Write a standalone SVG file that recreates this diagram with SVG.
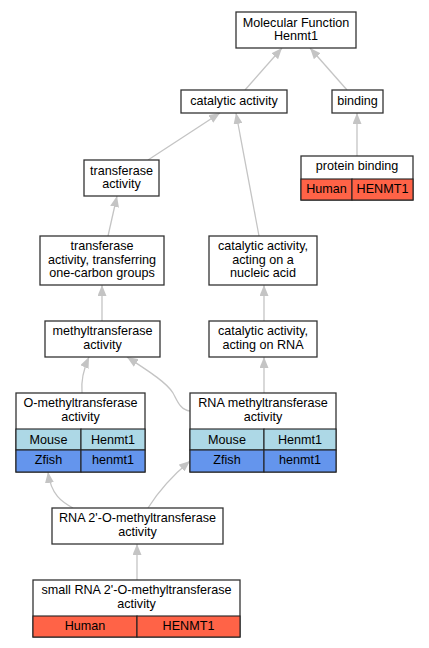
<svg xmlns="http://www.w3.org/2000/svg" width="429" height="648" viewBox="0 0 429 648">
<style>
text{font-family:"Liberation Sans",Arial,sans-serif;font-size:12.6px;fill:#000;text-anchor:middle}
.n{fill:#fff;stroke:#333;stroke-width:1.3}
.mouse{fill:#add8e6;stroke:#222;stroke-width:1.1}
.zfish{fill:#6495ed;stroke:#222;stroke-width:1.1}
.human{fill:#ff6347;stroke:#222;stroke-width:1.1}
.e{fill:none;stroke:#c4c4c4;stroke-width:1.3;marker-end:url(#ah)}
</style>
<defs>
<marker id="ah" viewBox="0 0 11 9" refX="11" refY="4.5" markerWidth="11" markerHeight="9" markerUnits="userSpaceOnUse" orient="auto">
<path d="M0,0 L11,4.5 L0,9 z" fill="#c4c4c4"/>
</marker>
</defs>
<g id="edges">
<path class="e" d="M245,90 L282,48"/>
<path class="e" d="M347,90 L310,48"/>
<path class="e" d="M148,160 L220,113"/>
<path class="e" d="M259,236 L236,113"/>
<path class="e" d="M357,156 L357,113"/>
<path class="e" d="M108,236 L117,196"/>
<path class="e" d="M102,321 L102,285"/>
<path class="e" d="M264,321 L264,285"/>
<path class="e" d="M264,393 L264,357"/>
<path class="e" d="M82,393 C81,382 84,368 89,357"/>
<path class="e" d="M190,411 C180,410 177,400 173,393 C167,383 150,372 127,357"/>
<path class="e" d="M73,508 C62,502 51,495 48,472"/>
<path class="e" d="M148,508 C158,492 172,476 190,461"/>
<path class="e" d="M137,580 L137,544"/>
</g>
<g id="mf">
<rect class="n" x="236" y="12" width="120" height="36"/>
<text x="296" y="26.5">Molecular Function</text>
<text x="296" y="40">Henmt1</text>
</g>
<g id="catalytic">
<rect class="n" x="181" y="90" width="106" height="23"/>
<text x="234" y="105">catalytic activity</text>
</g>
<g id="binding">
<rect class="n" x="332" y="90" width="51" height="23"/>
<text x="357.5" y="105">binding</text>
</g>
<g id="transferase">
<rect class="n" x="84" y="160" width="75" height="36"/>
<text x="121.5" y="174.5">transferase</text>
<text x="121.5" y="188">activity</text>
</g>
<g id="proteinbinding">
<rect class="n" x="301" y="156" width="112" height="44"/>
<text x="357" y="170">protein binding</text>
<rect class="human" x="301" y="179" width="51" height="21"/>
<rect class="human" x="352" y="179" width="61" height="21"/>
<text x="326.5" y="192.5">Human</text>
<text x="382.5" y="192.5">HENMT1</text>
</g>
<g id="transferring">
<rect class="n" x="40" y="236" width="124" height="49"/>
<text x="102" y="250">transferase</text>
<text x="102" y="263.5">activity, transferring</text>
<text x="102" y="277">one-carbon groups</text>
</g>
<g id="nucleic">
<rect class="n" x="209" y="236" width="108" height="49"/>
<text x="263" y="250">catalytic activity,</text>
<text x="263" y="263.5">acting on a</text>
<text x="263" y="277">nucleic acid</text>
</g>
<g id="methyl">
<rect class="n" x="45" y="321" width="115" height="36"/>
<text x="102.5" y="335">methyltransferase</text>
<text x="102.5" y="348.5">activity</text>
</g>
<g id="actingrna">
<rect class="n" x="209" y="321" width="108" height="36"/>
<text x="263" y="335">catalytic activity,</text>
<text x="263" y="348.5">acting on RNA</text>
</g>
<g id="omethyl">
<rect class="n" x="16" y="393" width="129" height="79"/>
<text x="80.5" y="407">O-methyltransferase</text>
<text x="80.5" y="420.5">activity</text>
<rect class="mouse" x="16" y="429" width="65" height="21"/>
<rect class="mouse" x="81" y="429" width="64" height="21"/>
<rect class="zfish" x="16" y="450" width="65" height="22"/>
<rect class="zfish" x="81" y="450" width="64" height="22"/>
<text x="48.5" y="444">Mouse</text>
<text x="113" y="444">Henmt1</text>
<text x="48.5" y="464">Zfish</text>
<text x="113" y="464">henmt1</text>
</g>
<g id="rnamethyl">
<rect class="n" x="190" y="393" width="146" height="79"/>
<text x="263" y="407">RNA methyltransferase</text>
<text x="263" y="420.5">activity</text>
<rect class="mouse" x="190" y="429" width="74" height="21"/>
<rect class="mouse" x="264" y="429" width="72" height="21"/>
<rect class="zfish" x="190" y="450" width="74" height="22"/>
<rect class="zfish" x="264" y="450" width="72" height="22"/>
<text x="227" y="444">Mouse</text>
<text x="300" y="444">Henmt1</text>
<text x="227" y="464">Zfish</text>
<text x="300" y="464">henmt1</text>
</g>
<g id="rna2o">
<rect class="n" x="52" y="508" width="171" height="36"/>
<text x="137.5" y="522">RNA 2'-O-methyltransferase</text>
<text x="137.5" y="535.5">activity</text>
</g>
<g id="smallrna">
<rect class="n" x="33" y="580" width="207" height="57"/>
<text x="136.5" y="594">small RNA 2'-O-methyltransferase</text>
<text x="136.5" y="607.5">activity</text>
<rect class="human" x="33" y="616" width="104" height="21"/>
<rect class="human" x="137" y="616" width="103" height="21"/>
<text x="85" y="630">Human</text>
<text x="188.5" y="630">HENMT1</text>
</g>
</svg>
